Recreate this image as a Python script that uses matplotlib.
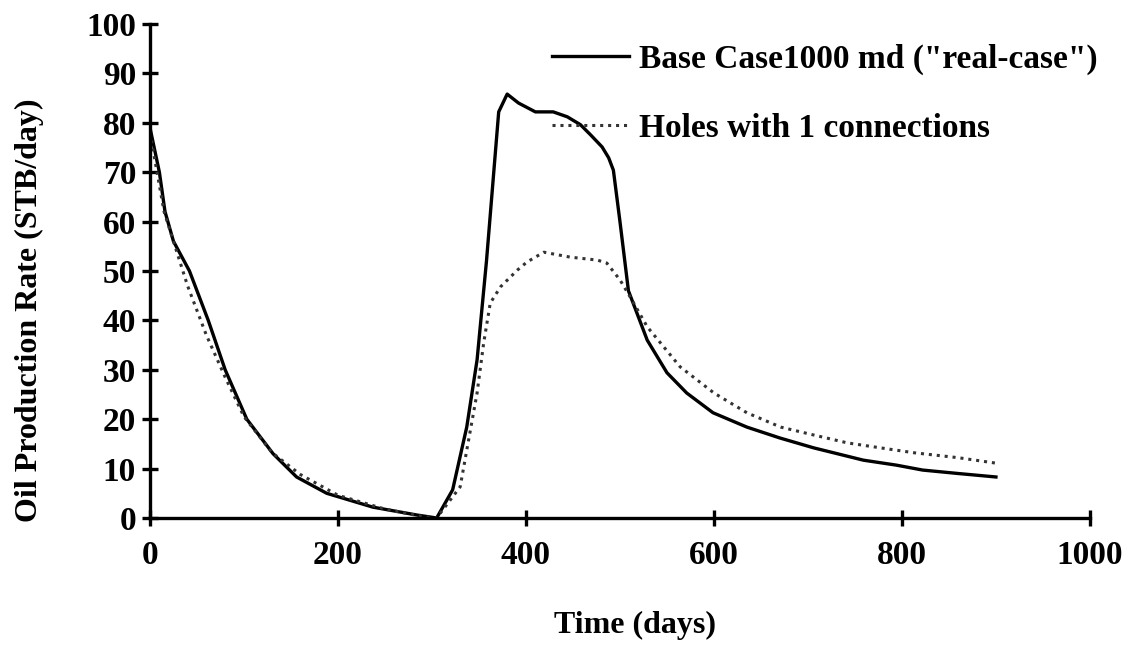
import matplotlib.pyplot as plt

# Curvas (dias, STB/dia)
base_t = [0, 10, 16, 25, 42, 62, 80, 103, 131, 156, 188, 237, 284, 305,
          322, 337, 348, 358, 371, 380, 392, 410, 429, 444, 458, 469, 481,
          488, 493, 500, 509, 529, 550, 571, 599, 635, 670, 706, 759, 794,
          822, 860, 900]
base_q = [79, 70, 62, 56, 50, 40, 30, 20, 13, 8.3, 5, 2.2, 0.6, 0,
          5.7, 18.4, 32, 52, 82.2, 85.8, 84, 82.2, 82.2, 81.2, 79.6, 77.5, 75.1,
          72.9, 70.4, 60, 46, 36, 29.4, 25.3, 21.3, 18.4, 16.2, 14.2, 11.7, 10.7,
          9.7, 9.0, 8.3]

holes_t = [0, 15, 40, 60, 80, 100, 130, 160, 200, 250, 290, 305, 330, 348,
           355, 362, 373, 391, 401, 419, 447, 476, 486, 500, 511, 529, 564,
           600, 635, 671, 706, 742, 777, 813, 860, 900]
holes_q = [78, 62, 47, 37, 28.5, 20.5, 13.2, 8.8, 4.6, 1.8, 0.3, 0, 6.3, 25.3,
           35.4, 43.5, 46.8, 50.2, 51.8, 53.8, 52.8, 52.2, 51.6, 48.2, 44.7, 38.7, 30.6,
           25.3, 21.3, 18.4, 16.8, 15.2, 14.2, 13.2, 12.2, 11.1]

plt.rcParams['font.family'] = 'Liberation Serif'
plt.rcParams['font.weight'] = 'bold'

fig = plt.figure(figsize=(11.31, 6.47), dpi=100)
ax = fig.add_axes([0.1326, 0.1994, 0.8311, 0.7636])

ax.plot(base_t, base_q, c='black', lw=2.4, label='Base Case1000 md ("real-case")')
ax.plot(holes_t, holes_q, c='#333333', lw=2.2, ls=(0, (1, 1.6)), label='Holes with 1 connections')

ax.set_xlim(0, 1000)
ax.set_ylim(0, 100)
ax.set_xticks(range(0, 1001, 200))
ax.set_yticks(range(0, 101, 10))

for s in ['top', 'right']:
    ax.spines[s].set_visible(False)
for s in ['left', 'bottom']:
    ax.spines[s].set_linewidth(2.4)
ax.tick_params(direction='inout', length=12, width=2.4, labelsize=24, pad=4)
ax.tick_params(axis='x', pad=10)

ax.set_xlabel('Time (days)', fontsize=23, fontweight='bold')
ax.set_ylabel('Oil Production Rate (STB/day)', fontsize=23, fontweight='bold')
ax.xaxis.set_label_coords(0.516, -0.217)
ax.yaxis.set_label_coords(-0.128, 0.42)
ax.xaxis.label.set_va('center')
ax.yaxis.label.set_va('center')

ax.legend(loc='upper left', bbox_to_anchor=(0.488, 0.932), bbox_transform=fig.transFigure,
          frameon=False, fontsize=24, borderpad=0, borderaxespad=0,
          handlelength=2.3, handletextpad=0.3, labelspacing=1.12)

plt.savefig('out.png', dpi=100)
